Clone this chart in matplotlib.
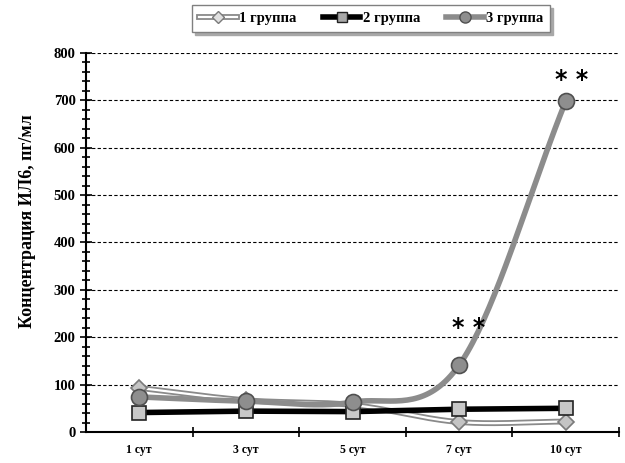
import numpy as np
import matplotlib
matplotlib.use('Agg')
import matplotlib.pyplot as plt
from matplotlib.lines import Line2D
from matplotlib.legend_handler import HandlerTuple
from matplotlib.ticker import MultipleLocator

days = ['1 сут', '3 сут', '5 сут', '7 сут', '10 сут']
group1 = [93, 67, 57, 21, 22]
group2 = [41, 44, 43, 48, 50]
group3 = [74, 65, 63, 141, 698]
labels = ['1 группа', '2 группа', '3 группа']
stars = {3: (7, 27), 4: (4.5, 15)}  # index -> text offset in points


def smooth(y, n=40):
    # Catmull-Rom curve through the points, like a spreadsheet "smoothed line"
    x = np.arange(len(y), dtype=float)
    y = np.asarray(y, dtype=float)
    px = np.concatenate([[2 * x[0] - x[1]], x, [2 * x[-1] - x[-2]]])
    py = np.concatenate([[2 * y[0] - y[1]], y, [2 * y[-1] - y[-2]]])
    xs, ys = [], []
    t = np.linspace(0, 1, n)
    for i in range(1, len(px) - 2):
        p0, p1, p2, p3 = [np.array([px[j], py[j]]) for j in range(i - 1, i + 3)]
        c1 = p1 + (p2 - p0) / 6
        c2 = p2 - (p3 - p1) / 6
        b = ((1 - t) ** 3)[:, None] * p1 + (3 * (1 - t) ** 2 * t)[:, None] * c1 \
            + (3 * (1 - t) * t ** 2)[:, None] * c2 + (t ** 3)[:, None] * p2
        xs.append(b[:, 0])
        ys.append(b[:, 1])
    return np.concatenate(xs), np.concatenate(ys)


plt.rcParams['font.family'] = ['Liberation Serif', 'DejaVu Serif']
plt.rcParams['font.weight'] = 'bold'

fig = plt.figure(figsize=(6.25, 4.63), dpi=100)
ax = fig.add_axes([0.1376, 0.067, 0.8528, 0.8186])

x = np.arange(len(days))

# group 1: double (grey edged, white core) smoothed line with diamonds
sx, sy = smooth(group1)
ax.plot(sx, sy, color='#8a8a8a', lw=4.2, solid_capstyle='round', zorder=2)
ax.plot(sx, sy, color='white', lw=1.6, zorder=2.1)
ax.plot(x, group1, ls='none', marker='D', ms=8.5, mfc='#c4c4c4', mec='#7a7a7a', mew=1.2, zorder=3)

# group 2: thick black line with squares
ax.plot(x, group2, color='black', lw=4, zorder=4)
ax.plot(x, group2, ls='none', marker='s', ms=9.5, mfc='#c8c8c8', mec='#222222', mew=1.2, zorder=5)

# group 3: thick grey smoothed line with circles
sx, sy = smooth(group3)
ax.plot(sx, sy, color='#8c8c8c', lw=4, solid_capstyle='round', zorder=6)
ax.plot(x, group3, ls='none', marker='o', ms=11.5, mfc='#8e8e8e', mec='#505050', mew=1.2, zorder=7)

for i, (dx, dy) in stars.items():
    ax.annotate('* *', (x[i], group3[i]), xytext=(dx, dy), textcoords='offset points',
                ha='center', va='center', fontsize=17, family='DejaVu Sans',
                fontweight='bold', zorder=8)

ax.set_xlim(-0.5, len(days) - 0.5)
ax.set_ylim(0, 800)
ax.set_xticks(x)
ax.set_xticklabels(days, fontsize=8.5, fontweight='bold')
ax.set_xticks(np.arange(0.5, len(days), 1), minor=True)
ax.tick_params(axis='x', which='major', length=0, pad=9)
ax.tick_params(axis='x', which='minor', direction='inout', length=7, width=1.2)
ax.yaxis.set_major_locator(MultipleLocator(100))
ax.yaxis.set_minor_locator(MultipleLocator(20))
ax.tick_params(axis='y', which='major', direction='inout', length=8, width=1.2, labelsize=10.5)
ax.tick_params(axis='y', which='minor', direction='inout', length=6, width=1.2)
for lab in ax.get_yticklabels():
    lab.set_fontweight('bold')

ax.yaxis.grid(True, which='major', ls=(0, (3, 2)), color='black', lw=0.8)
ax.set_axisbelow(True)
for s in ['top', 'right']:
    ax.spines[s].set_visible(False)
for s in ['left', 'bottom']:
    ax.spines[s].set_linewidth(1.5)

ax.set_ylabel('Концентрация ИЛ6, пг/мл', fontsize=13, fontweight='bold')
ax.yaxis.set_label_coords(-0.094, 0.557)

# legend handles
h1 = (Line2D([], [], color='#8a8a8a', lw=4.2),
      Line2D([], [], color='white', lw=1.6),
      Line2D([], [], ls='none', marker='D', ms=6, mfc='#e0e0e0', mec='#7a7a7a', mew=1))
h2 = (Line2D([], [], color='black', lw=4),
      Line2D([], [], ls='none', marker='s', ms=7, mfc='#a8a8a8', mec='#222222', mew=1))
h3 = (Line2D([], [], color='#8c8c8c', lw=4),
      Line2D([], [], ls='none', marker='o', ms=8, mfc='#8e8e8e', mec='#505050', mew=1))
leg = fig.legend([h1, h2, h3], labels, handler_map={tuple: HandlerTuple(ndivide=1)},
                 loc='upper center', bbox_to_anchor=(0.594, 1.004), ncol=3,
                 fontsize=10.5, frameon=True, fancybox=False,
                 shadow={'color': '#a8a8a8', 'alpha': 1},
                 handlelength=2.6, handletextpad=0.15, columnspacing=1.8,
                 borderpad=0.45, edgecolor='#808080')
leg.get_frame().set_linewidth(1.0)
for t in leg.get_texts():
    t.set_fontweight('bold')

fig.savefig('out.png', dpi=100)
